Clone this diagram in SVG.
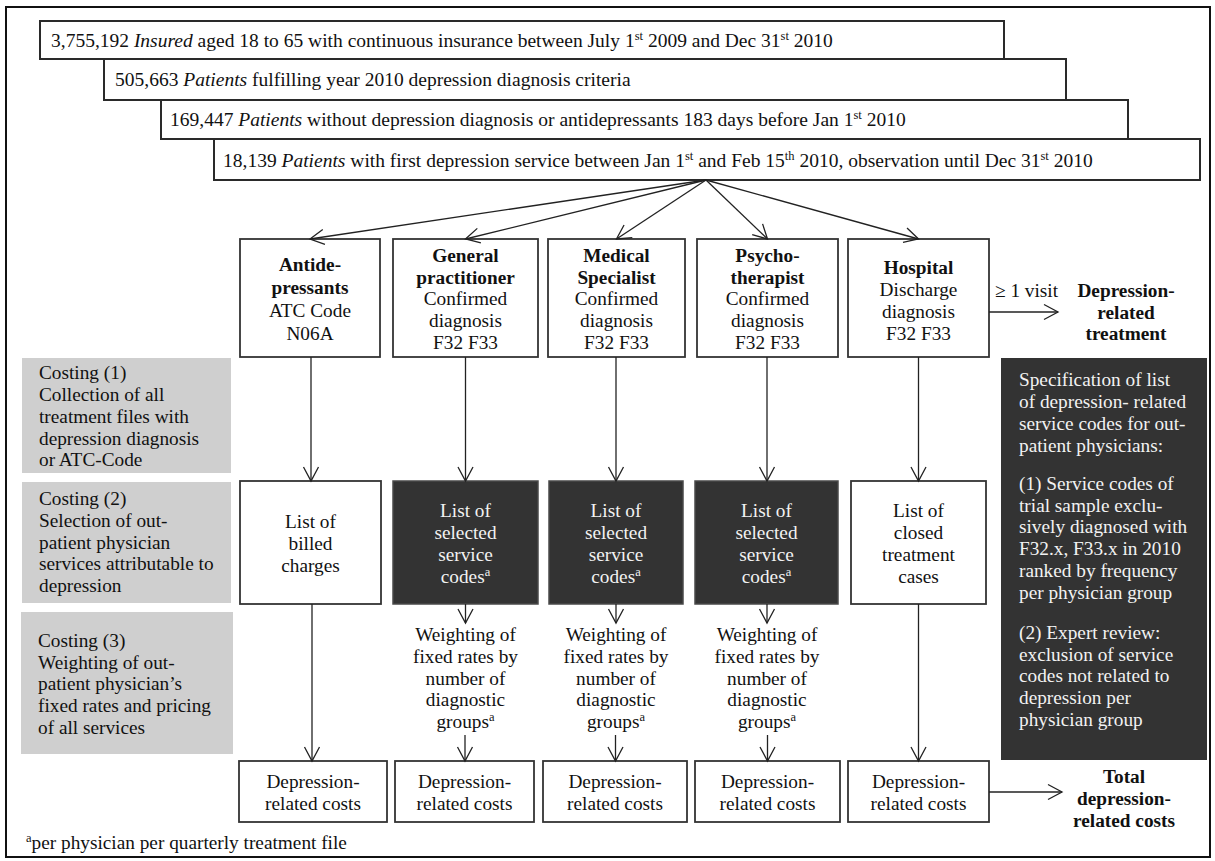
<svg xmlns="http://www.w3.org/2000/svg" width="1215" height="861" viewBox="0 0 1215 861">
<style>
text { font-family: "Liberation Serif", "Times New Roman", serif; font-size: 19.3px; fill: #111; }
.t { font-size: 19.5px; }
.b { font-weight: bold; }
.c { text-anchor: middle; }
.w { fill: #f2f2f2; }
.box { fill: #fff; stroke: #333; stroke-width: 1.8; }
.tb { fill: #fff; stroke: #2a2a2a; stroke-width: 2; }
.dark { fill: #333; stroke: #4a4a4a; stroke-width: 1.5; }
.gray { fill: #cfcfcf; }
.ln { stroke: #222; stroke-width: 1.3; fill: none; marker-end: url(#ah); }
.sup { font-size: 12.5px; }
</style>
<defs>
<marker id="ah" markerWidth="18" markerHeight="18" viewBox="-16 -9 18 18" refX="0" refY="0" orient="auto" markerUnits="userSpaceOnUse">
<path d="M-14,-7.5 L0,0 L-14,7.5" fill="none" stroke="#222" stroke-width="1.3"/>
</marker>
</defs>
<rect x="0" y="0" width="1215" height="861" fill="#fff"/>
<rect id="frame" x="6" y="7" width="1204" height="850" fill="none" stroke="#111" stroke-width="2"/>

<g id="box-insured">
<rect class="tb" x="40" y="21" width="964" height="38"/>
<text class="t" x="51" y="46.5">3,755,192 <tspan font-style="italic">Insured</tspan> aged 18 to 65 with continuous insurance between July 1<tspan class="sup" dy="-7">st</tspan><tspan dy="7"> 2009 and Dec 31</tspan><tspan class="sup" dy="-7">st</tspan><tspan dy="7"> 2010</tspan></text>
</g>
<g id="box-criteria">
<rect class="tb" x="104" y="59" width="962" height="41"/>
<text class="t" x="115" y="86">505,663 <tspan font-style="italic">Patients</tspan> fulfilling year 2010 depression diagnosis criteria</text>
</g>
<g id="box-without">
<rect class="tb" x="161" y="100" width="967" height="39"/>
<text class="t" x="170" y="126">169,447 <tspan font-style="italic">Patients</tspan> without depression diagnosis or antidepressants 183 days before Jan 1<tspan class="sup" dy="-7">st</tspan><tspan dy="7"> 2010</tspan></text>
</g>
<g id="box-first">
<rect class="tb" x="214" y="139" width="986" height="41"/>
<text class="t" x="223" y="166.5">18,139 <tspan font-style="italic">Patients</tspan> with first depression service between Jan 1<tspan class="sup" dy="-7">st</tspan><tspan dy="7"> and Feb 15</tspan><tspan class="sup" dy="-7">th</tspan><tspan dy="7"> 2010, observation until Dec 31</tspan><tspan class="sup" dy="-7">st</tspan><tspan dy="7"> 2010</tspan></text>
</g>

<g id="antidepressants">
<rect class="box" x="240" y="239" width="140" height="118"/>
<text class="c b" x="310" y="271">Antide-</text>
<text class="c b" x="310" y="294">pressants</text>
<text class="c" x="310" y="317">ATC Code</text>
<text class="c" x="310" y="339.5">N06A</text>
</g>
<g id="general-practitioner">
<rect class="box" x="393" y="239" width="145" height="118"/>
<text class="c b" x="465.5" y="262">General</text>
<text class="c b" x="465.5" y="283.7">practitioner</text>
<text class="c" x="465.5" y="305.4">Confirmed</text>
<text class="c" x="465.5" y="327.1">diagnosis</text>
<text class="c" x="465.5" y="348.8">F32 F33</text>
</g>
<g id="medical-specialist">
<rect class="box" x="548" y="239" width="137" height="118"/>
<text class="c b" x="616.5" y="262">Medical</text>
<text class="c b" x="616.5" y="283.7">Specialist</text>
<text class="c" x="616.5" y="305.4">Confirmed</text>
<text class="c" x="616.5" y="327.1">diagnosis</text>
<text class="c" x="616.5" y="348.8">F32 F33</text>
</g>
<g id="psychotherapist">
<rect class="box" x="697" y="239" width="141" height="118"/>
<text class="c b" x="767.5" y="262">Psycho-</text>
<text class="c b" x="767.5" y="283.7">therapist</text>
<text class="c" x="767.5" y="305.4">Confirmed</text>
<text class="c" x="767.5" y="327.1">diagnosis</text>
<text class="c" x="767.5" y="348.8">F32 F33</text>
</g>
<g id="hospital">
<rect class="box" x="848" y="239" width="141" height="118"/>
<text class="c b" x="918.5" y="274">Hospital</text>
<text class="c" x="918.5" y="296">Discharge</text>
<text class="c" x="918.5" y="318">diagnosis</text>
<text class="c" x="918.5" y="340">F32 F33</text>
</g>

<g id="visit-label">
<text x="995" y="297">≥ 1 visit</text>
</g>
<g id="depression-related-treatment">
<text class="c b" x="1126" y="297">Depression-</text>
<text class="c b" x="1126" y="318.5">related</text>
<text class="c b" x="1126" y="340">treatment</text>
</g>

<g id="costing-1">
<rect class="gray" x="22" y="358" width="209" height="115"/>
<text x="39" y="379">Costing (1)</text>
<text x="39" y="401">Collection of all</text>
<text x="39" y="423">treatment files with</text>
<text x="39" y="444.5">depression diagnosis</text>
<text x="39" y="466">or ATC-Code</text>
</g>
<g id="costing-2">
<rect class="gray" x="22" y="482" width="209" height="121"/>
<text x="39" y="505">Costing (2)</text>
<text x="39" y="527">Selection of out-</text>
<text x="39" y="548.5">patient physician</text>
<text x="39" y="570">services attributable to</text>
<text x="39" y="592">depression</text>
</g>
<g id="costing-3">
<rect class="gray" x="21" y="612" width="212" height="142"/>
<text x="38" y="647">Costing (3)</text>
<text x="38" y="668.5">Weighting of out-</text>
<text x="38" y="690">patient physician’s</text>
<text x="38" y="712">fixed rates and pricing</text>
<text x="38" y="733.5">of all services</text>
</g>

<g id="specification">
<rect fill="#333" x="1001" y="358" width="206" height="402"/>
<text class="w" x="1019" y="386">Specification of list</text>
<text class="w" x="1019" y="408">of depression- related</text>
<text class="w" x="1019" y="430">service codes for out-</text>
<text class="w" x="1019" y="451.5">patient physicians:</text>
<text class="w" x="1019" y="490">(1) Service codes of</text>
<text class="w" x="1019" y="511.7">trial sample exclu-</text>
<text class="w" x="1019" y="533.4">sively diagnosed with</text>
<text class="w" x="1019" y="555.1">F32.x, F33.x in 2010</text>
<text class="w" x="1019" y="576.8">ranked by frequency</text>
<text class="w" x="1019" y="598.5">per physician group</text>
<text class="w" x="1019" y="639">(2) Expert review:</text>
<text class="w" x="1019" y="660.7">exclusion of service</text>
<text class="w" x="1019" y="682.4">codes not related to</text>
<text class="w" x="1019" y="704.1">depression per</text>
<text class="w" x="1019" y="725.8">physician group</text>
</g>

<g id="billed-charges">
<rect class="box" x="240" y="481" width="141" height="123"/>
<text class="c" x="310.5" y="528">List of</text>
<text class="c" x="310.5" y="550">billed</text>
<text class="c" x="310.5" y="572">charges</text>
</g>
<g id="codes-gp">
<rect class="dark" x="393" y="481" width="145" height="123"/>
<text class="c w" x="465.5" y="517">List of</text>
<text class="c w" x="465.5" y="539">selected</text>
<text class="c w" x="465.5" y="561">service</text>
<text class="c w" x="465.5" y="583">codes<tspan class="sup" dy="-7">a</tspan></text>
</g>
<g id="codes-ms">
<rect class="dark" x="549" y="481" width="134" height="123"/>
<text class="c w" x="616" y="517">List of</text>
<text class="c w" x="616" y="539">selected</text>
<text class="c w" x="616" y="561">service</text>
<text class="c w" x="616" y="583">codes<tspan class="sup" dy="-7">a</tspan></text>
</g>
<g id="codes-pt">
<rect class="dark" x="695" y="481" width="143" height="123"/>
<text class="c w" x="766.5" y="517">List of</text>
<text class="c w" x="766.5" y="539">selected</text>
<text class="c w" x="766.5" y="561">service</text>
<text class="c w" x="766.5" y="583">codes<tspan class="sup" dy="-7">a</tspan></text>
</g>
<g id="closed-cases">
<rect class="box" x="851" y="481" width="135" height="123"/>
<text class="c" x="918.5" y="517">List of</text>
<text class="c" x="918.5" y="539">closed</text>
<text class="c" x="918.5" y="561">treatment</text>
<text class="c" x="918.5" y="583">cases</text>
</g>

<g id="weighting-gp">
<text class="c" x="465.5" y="641">Weighting of</text>
<text class="c" x="465.5" y="663">fixed rates by</text>
<text class="c" x="465.5" y="684.5">number of</text>
<text class="c" x="465.5" y="706">diagnostic</text>
<text class="c" x="465.5" y="728">groups<tspan class="sup" dy="-7">a</tspan></text>
</g>
<g id="weighting-ms">
<text class="c" x="616" y="641">Weighting of</text>
<text class="c" x="616" y="663">fixed rates by</text>
<text class="c" x="616" y="684.5">number of</text>
<text class="c" x="616" y="706">diagnostic</text>
<text class="c" x="616" y="728">groups<tspan class="sup" dy="-7">a</tspan></text>
</g>
<g id="weighting-pt">
<text class="c" x="767" y="641">Weighting of</text>
<text class="c" x="767" y="663">fixed rates by</text>
<text class="c" x="767" y="684.5">number of</text>
<text class="c" x="767" y="706">diagnostic</text>
<text class="c" x="767" y="728">groups<tspan class="sup" dy="-7">a</tspan></text>
</g>

<g id="costs-antidepressants">
<rect class="box" x="239" y="761" width="148" height="61"/>
<text class="c" x="313" y="788">Depression-</text>
<text class="c" x="313" y="810">related costs</text>
</g>
<g id="costs-gp">
<rect class="box" x="395" y="761" width="139" height="61"/>
<text class="c" x="464.5" y="788">Depression-</text>
<text class="c" x="464.5" y="810">related costs</text>
</g>
<g id="costs-ms">
<rect class="box" x="543" y="761" width="144" height="61"/>
<text class="c" x="615" y="788">Depression-</text>
<text class="c" x="615" y="810">related costs</text>
</g>
<g id="costs-pt">
<rect class="box" x="695" y="761" width="145" height="61"/>
<text class="c" x="767.5" y="788">Depression-</text>
<text class="c" x="767.5" y="810">related costs</text>
</g>
<g id="costs-hospital">
<rect class="box" x="848" y="761" width="141" height="61"/>
<text class="c" x="918.5" y="788">Depression-</text>
<text class="c" x="918.5" y="810">related costs</text>
</g>
<g id="total-costs">
<text class="c b" x="1124" y="782.5">Total</text>
<text class="c b" x="1124" y="804.5">depression-</text>
<text class="c b" x="1124" y="826.5">related costs</text>
</g>

<g id="footnote">
<text x="26" y="849"><tspan class="sup" dy="-7">a</tspan><tspan dy="7">per physician per quarterly treatment file</tspan></text>
</g>

<g id="connectors">
<line class="ln" x1="706" y1="180" x2="310" y2="239"/>
<line class="ln" x1="706" y1="180" x2="465.5" y2="239"/>
<line class="ln" x1="706" y1="180" x2="616.5" y2="239"/>
<line class="ln" x1="706" y1="180" x2="767.5" y2="239"/>
<line class="ln" x1="706" y1="180" x2="918.5" y2="239"/>
<line class="ln" x1="311" y1="357" x2="311" y2="481"/>
<line class="ln" x1="465.5" y1="357" x2="465.5" y2="481"/>
<line class="ln" x1="616" y1="357" x2="616" y2="481"/>
<line class="ln" x1="767" y1="357" x2="767" y2="481"/>
<line class="ln" x1="918.5" y1="357" x2="918.5" y2="481"/>
<line class="ln" x1="312" y1="604" x2="312" y2="761"/>
<line class="ln" x1="465.5" y1="604" x2="465.5" y2="623"/>
<line class="ln" x1="616" y1="604" x2="616" y2="623"/>
<line class="ln" x1="767" y1="604" x2="767" y2="623"/>
<line class="ln" x1="465" y1="735" x2="465" y2="761"/>
<line class="ln" x1="615.5" y1="735" x2="615.5" y2="761"/>
<line class="ln" x1="767.5" y1="735" x2="767.5" y2="761"/>
<line class="ln" x1="918.5" y1="604" x2="918.5" y2="761"/>
<line class="ln" x1="989" y1="312" x2="1058" y2="312"/>
<line class="ln" x1="989" y1="792" x2="1062" y2="792"/>
</g>
</svg>
